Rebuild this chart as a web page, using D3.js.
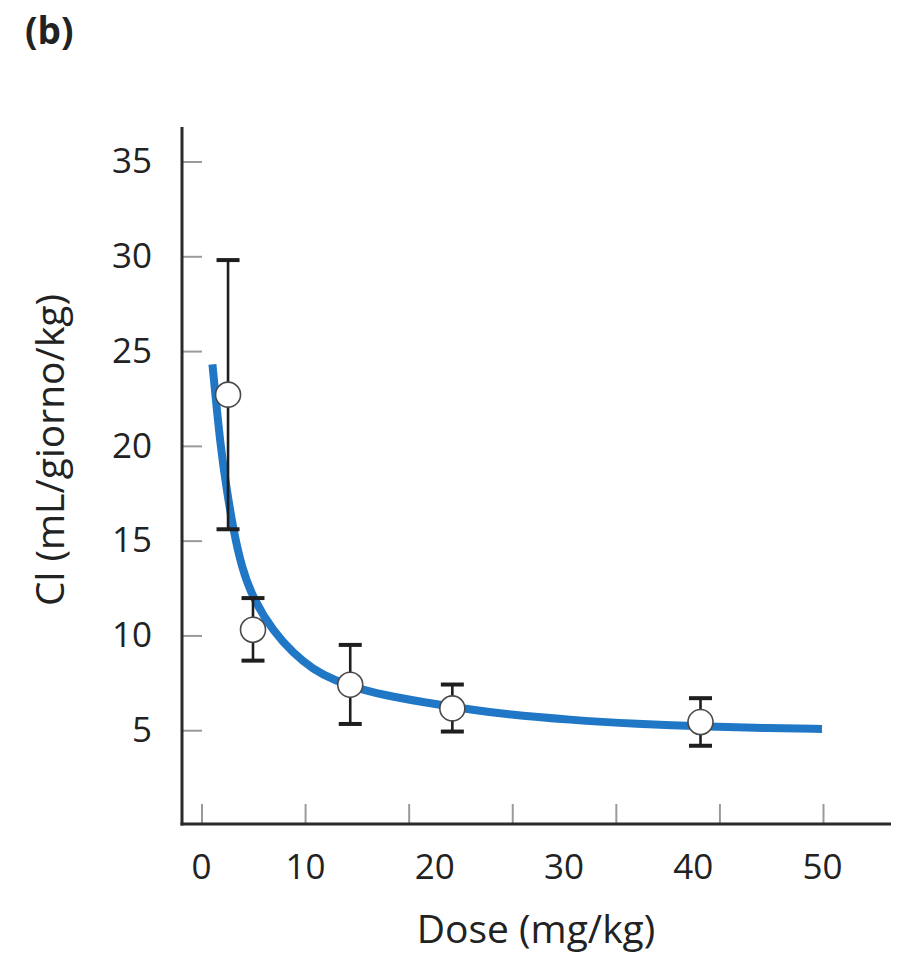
<!DOCTYPE html>
<html>
<head>
<meta charset="utf-8">
<script src="https://cdn.jsdelivr.net/npm/d3@7"></script>
<style>
  html, body { margin: 0; padding: 0; background: #fff; }
  svg { display: block; }
  text { font-family: "Open Sans", "DejaVu Sans", sans-serif; fill: #222; }
</style>
</head>
<body>
<svg id="chart" width="902" height="953"></svg>
<script>
// ---- data ----
const doses   = [2.6, 5.0, 13.5, 21.4, 40.6];
const clMean  = [22.7, 10.3, 7.4, 6.15, 5.43];
const clUpper = [29.8, 11.97, 9.5, 7.41, 6.69];
const clLower = [15.6, 8.67, 5.33, 4.93, 4.18];

const fitDose = [1.1, 1.9, 2.5, 3.1, 3.9, 5.0, 6.95, 8.9, 10.6, 12.2, 14.6, 16.8, 18.9, 23.0, 25.3, 30.5, 35.7, 40.8, 46.0, 50.0];
const fitCl   = [24.3, 19.8, 17.6, 15.6, 13.6, 11.95, 10.2, 9.05, 8.22, 7.65, 7.08, 6.77, 6.5, 6.07, 5.86, 5.54, 5.33, 5.2, 5.1, 5.07];

const xTickLabels = [0, 10, 20, 30, 40, 50];
const xTickMarks  = [0, 1, 2, 3, 4, 5, 6];
const yTickValues = [5, 10, 15, 20, 25, 30, 35];

const panelLabel = "(b)";
const xTitle = "Dose (mg/kg)";
const yTitle = "Cl (mL/giorno/kg)";

// ---- layout ----
const svg = d3.select("#chart");
const axisX0 = 182, axisX1 = 891;

const x = d3.scaleLinear().domain([0, 10, 50]).range([201, 305, 822]);
const xMarks = d3.scaleLinear().domain([0, 6]).range([201.5, 823]);
const y = d3.scaleLinear().domain([0, 36.82]).range([825, 127]);
const baseY = 824;

// panel label
svg.append("text")
  .attr("x", 25).attr("y", 44)
  .attr("font-size", 37).attr("font-weight", "bold")
  .text(panelLabel);

// fitted curve
const line = d3.line()
  .x((d, i) => x(fitDose[i]))
  .y((d, i) => y(fitCl[i]))
  .curve(d3.curveBasis);
svg.append("path")
  .datum(fitDose)
  .attr("d", line)
  .attr("fill", "none")
  .attr("stroke", "#1f77c6")
  .attr("stroke-width", 8);

// y axis ticks (inward) and labels
const yAxis = d3.axisLeft(y).tickValues(yTickValues)
  .tickSizeInner(-20).tickSizeOuter(0).tickPadding(30);
const gy = svg.append("g").attr("transform", `translate(${axisX0},0)`).call(yAxis);
gy.select(".domain").remove();
gy.selectAll(".tick line").attr("stroke", "#9a9a9a").attr("stroke-width", 2);
gy.selectAll(".tick text")
  .attr("font-size", 35).attr("fill", "#222")
  .style("font-family", '"Open Sans", sans-serif');

// x axis tick marks (upward, evenly spaced)
const xMarkAxis = d3.axisTop(xMarks).tickValues(xTickMarks)
  .tickSizeInner(20).tickSizeOuter(0).tickFormat("");
const gxm = svg.append("g").attr("transform", `translate(0,${baseY})`).call(xMarkAxis);
gxm.select(".domain").remove();
gxm.selectAll(".tick line").attr("stroke", "#9a9a9a").attr("stroke-width", 2);

// x axis labels
const xAxis = d3.axisBottom(x).tickValues(xTickLabels).tickSize(0).tickPadding(30);
const gx = svg.append("g").attr("transform", `translate(0,${baseY})`).call(xAxis);
gx.select(".domain").remove();
gx.selectAll(".tick text")
  .attr("font-size", 35).attr("fill", "#222")
  .style("font-family", '"Open Sans", sans-serif');

// axis lines
svg.append("line")
  .attr("x1", axisX0).attr("x2", axisX0)
  .attr("y1", y(36.82)).attr("y2", baseY + 1.5)
  .attr("stroke", "#2a2a2a").attr("stroke-width", 3);
svg.append("line")
  .attr("x1", axisX0 - 1.5).attr("x2", axisX1)
  .attr("y1", baseY).attr("y2", baseY)
  .attr("stroke", "#2a2a2a").attr("stroke-width", 3);

// error bars
const eb = svg.append("g").selectAll("g").data(doses).join("g");
eb.append("line")
  .attr("x1", (d) => x(d)).attr("x2", (d) => x(d))
  .attr("y1", (d, i) => y(clUpper[i])).attr("y2", (d, i) => y(clLower[i]))
  .attr("stroke", "#1e1e1e").attr("stroke-width", 2.6);
eb.append("line")
  .attr("x1", (d) => x(d) - 11.5).attr("x2", (d) => x(d) + 11.5)
  .attr("y1", (d, i) => y(clUpper[i])).attr("y2", (d, i) => y(clUpper[i]))
  .attr("stroke", "#1e1e1e").attr("stroke-width", 4);
eb.append("line")
  .attr("x1", (d) => x(d) - 11.5).attr("x2", (d) => x(d) + 11.5)
  .attr("y1", (d, i) => y(clLower[i])).attr("y2", (d, i) => y(clLower[i]))
  .attr("stroke", "#1e1e1e").attr("stroke-width", 4);

// points
svg.append("g").selectAll("circle").data(doses).join("circle")
  .attr("cx", (d) => x(d))
  .attr("cy", (d, i) => y(clMean[i]))
  .attr("r", 12.5)
  .attr("fill", "#fff")
  .attr("stroke", "#4a4a4a")
  .attr("stroke-width", 1.6);

// axis titles
svg.append("text")
  .attr("x", 536).attr("y", 943)
  .attr("text-anchor", "middle")
  .attr("font-size", 39)
  .text(xTitle);
svg.append("text")
  .attr("transform", "translate(64,450) rotate(-90)")
  .attr("text-anchor", "middle")
  .attr("font-size", 39)
  .text(yTitle);
</script>
</body>
</html>
